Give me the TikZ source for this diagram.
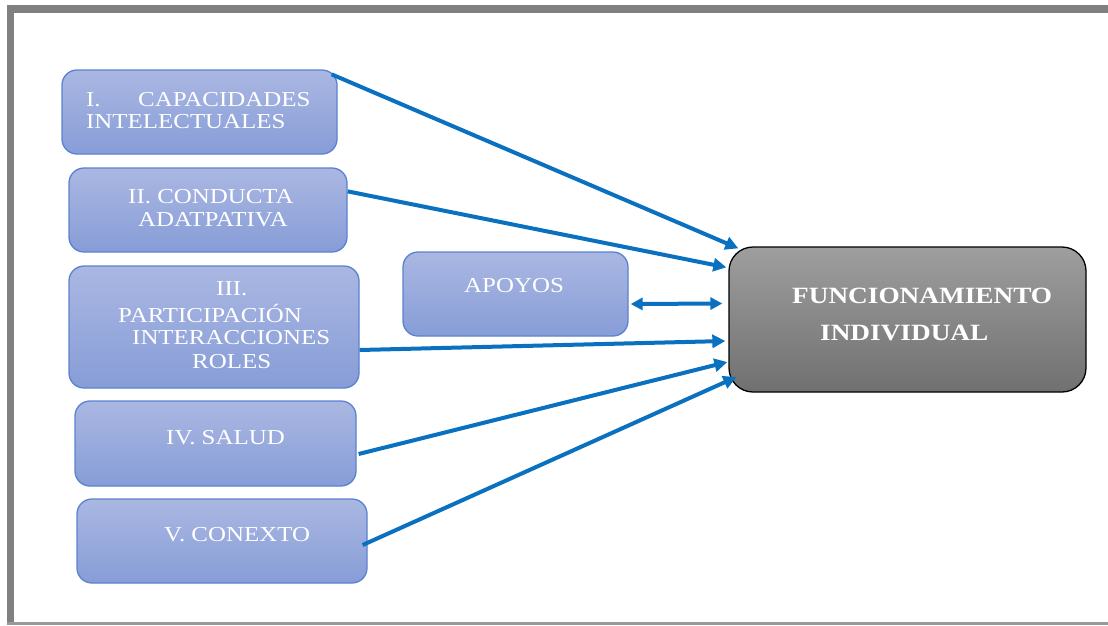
\documentclass[tikz,border=0pt]{standalone}
\usepackage{fontspec}
\setmainfont{Liberation Serif}[FakeStretch=1.17]
\usetikzlibrary{arrows.meta,calc}
\definecolor{arrblue}{HTML}{0A70C0}
\definecolor{boxtop}{HTML}{AAB7E2}
\definecolor{boxbot}{HTML}{879DD7}
\definecolor{boxline}{HTML}{5A82D0}
\definecolor{frame}{HTML}{808080}
\tikzset{
  bluebox/.style={draw=boxline, line width=1.3pt, rounded corners=15pt,
    top color=boxtop, bottom color=boxbot, inner sep=0pt},
  funcbox/.style={draw=black, line width=1.3pt, rounded corners=24pt,
    top color=black!38, bottom color=black!56, inner sep=0pt},
  lbl/.style={text=white, font=\fontsize{21.3}{23}\selectfont, inner sep=0pt, anchor=west},
  flbl/.style={text=white, font=\fontsize{23.3}{26}\selectfont\bfseries, inner sep=0pt, anchor=west},
  arr/.style={draw=arrblue, line width=4pt, -{Triangle[length=13pt,width=13pt]}},
  darr/.style={draw=arrblue, line width=4pt, {Triangle[length=12pt,width=12pt]}-{Triangle[length=12pt,width=12pt]}},
}
\begin{document}
\begin{tikzpicture}[x=1pt,y=-1pt]
\useasboundingbox (0,0) rectangle (1108,625);
% frame
\fill[frame] (7,5) rectangle (1108,13);
\fill[frame] (7,5) rectangle (14,625);
\fill[black!40] (7,622) rectangle (1108,625);
% boxes
\node[bluebox, minimum width=275pt, minimum height=84pt] (b1) at (199.5,112) {};
\node[bluebox, minimum width=278pt, minimum height=84pt] (b2) at (208,210) {};
\node[bluebox, minimum width=290pt, minimum height=122pt] (b3) at (214,327) {};
\node[bluebox, minimum width=281pt, minimum height=85pt] (b4) at (215.5,443.5) {};
\node[bluebox, minimum width=290pt, minimum height=84pt] (b5) at (222,541) {};
\node[bluebox, minimum width=225pt, minimum height=84pt] (ap) at (515.5,294) {};
\node[funcbox, minimum width=357pt, minimum height=145pt] (f) at (907.5,319.5) {};
% labels
\node[lbl] (t1a) at (86,100) {I.};
\node[lbl] (t1b) at (138,100) {CAPACIDADES};
\node[lbl] (t1c) at (86,122) {INTELECTUALES};
\node[lbl] (t2a) at (128,197) {II. CONDUCTA};
\node[lbl] (t2b) at (138,220) {ADATPATIVA};
\node[lbl] (t3a) at (216,289) {III.};
\node[lbl] (t3b) at (118,313) {PARTICIPACIÓN};
\node[lbl] (t3c) at (132,338) {INTERACCIONES};
\node[lbl] (t3d) at (192,362) {ROLES};
\node[lbl] (t4) at (166,438) {IV. SALUD};
\node[lbl] (t5) at (164,535) {V. CONEXTO};
\node[lbl] (tap) at (464,286) {APOYOS};
\node[flbl] (tf1) at (792,296) {FUNCIONAMIENTO};
\node[flbl] (tf2) at (820,333) {INDIVIDUAL};
% arrows
\draw[arr] ($(b1.north east)+(-6,5)$) -- ($(f.north west)+(10,2)$);
\draw[arr] ($(b2.north east)+(0,24)$) -- ($(f.north west)+(-2,21)$);
\draw[arr] ($(b3.east)+(0,23)$) -- ($(f.west)+(-3,21.5)$);
\draw[arr] ($(b4.east)+(2,10.5)$) -- ($(f.west)+(-1,42.5)$);
\draw[arr] ($(b5.east)+(-5,4)$) -- ($(f.west)+(8,57.5)$);
\draw[darr] ($(ap.east)+(2,10)$) -- ($(f.west)+(-6,-16)$);
\end{tikzpicture}
\end{document}
